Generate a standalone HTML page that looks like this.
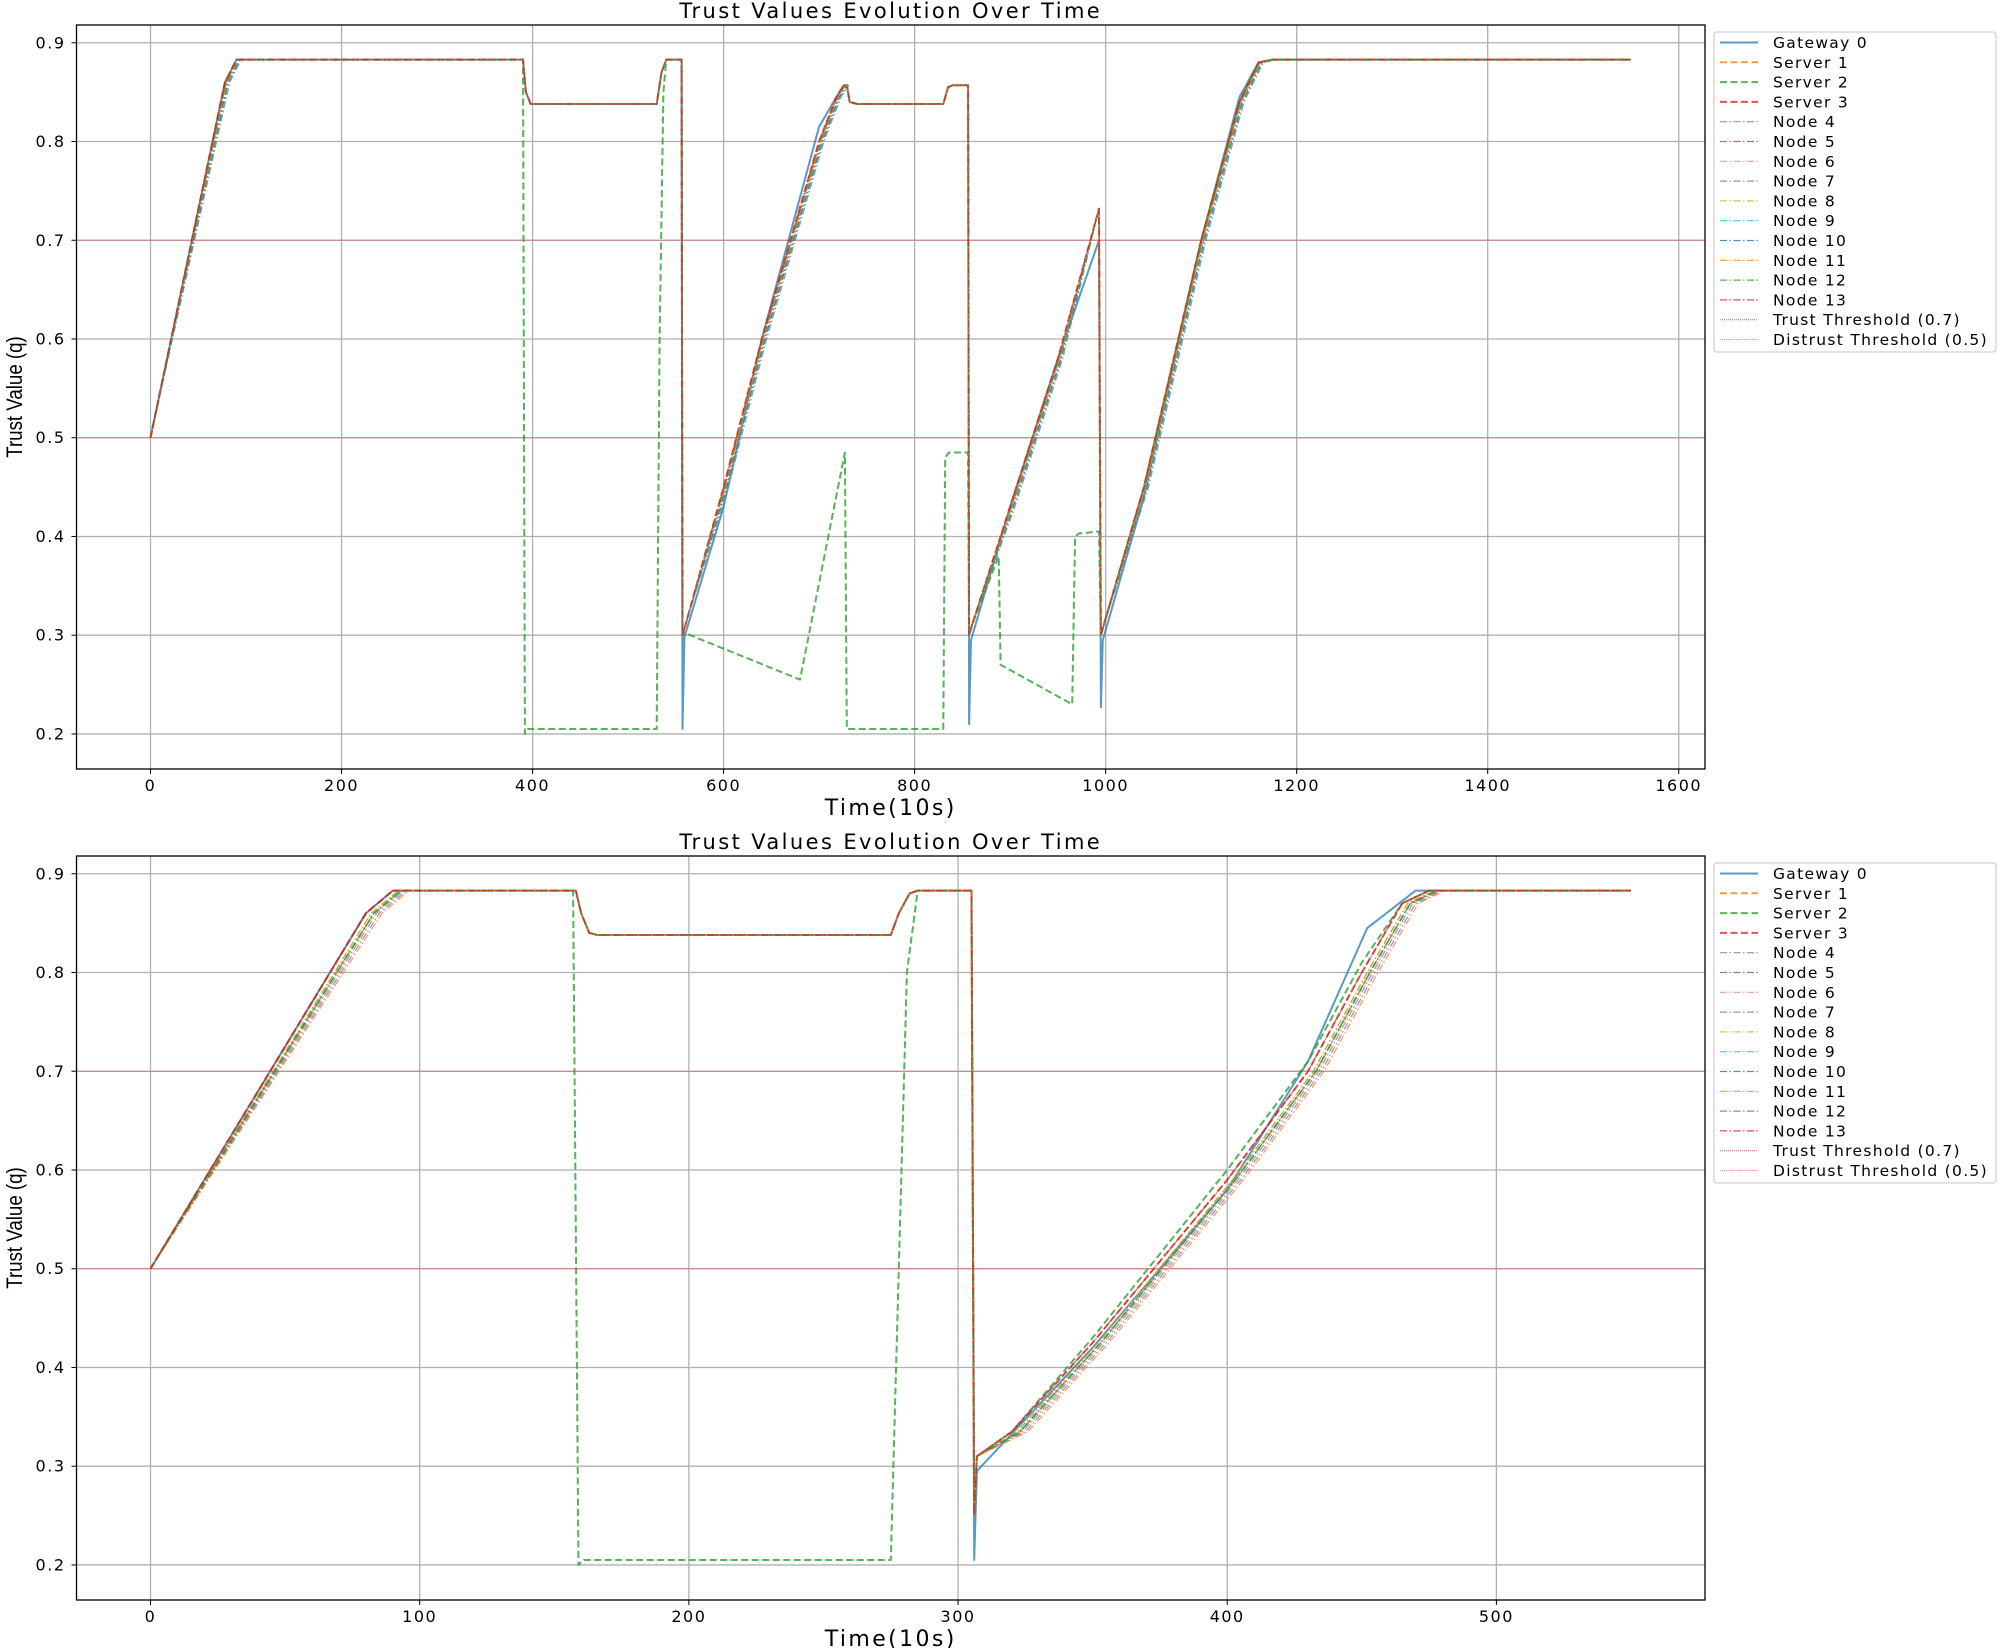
<!DOCTYPE html>
<html><head><meta charset="utf-8"><style>
html,body{margin:0;padding:0;background:#fff;}
svg{display:block;font-family:"DejaVu Sans","Liberation Sans",sans-serif;}
</style></head><body>
<svg id="fig" width="2000" height="1648" viewBox="0 0 2000 1648" xmlns="http://www.w3.org/2000/svg"></svg>
<script>
// ---------- data ----------
const seriesNames = ["Gateway 0","Server 1","Server 2","Server 3","Node 4","Node 5","Node 6","Node 7","Node 8","Node 9","Node 10","Node 11","Node 12","Node 13"];
const yTicks = [0.2,0.3,0.4,0.5,0.6,0.7,0.8,0.9];
const xTicksTop = [0,200,400,600,800,1000,1200,1400,1600];
const xTicksBottom = [0,100,200,300,400,500];
const thresholds = [0.7,0.5];
// [time, value, onRamp]
const topBase = [[0,.5,0],[78,.86,1],[90,.883,1],[390,.883,0],[393,.85,0],[398,.838,0],[530,.838,0],[535,.87,0],[540,.883,0],[556,.883,0],[557,.30,0],[560,.31,0],[600,.45,1],[640,.60,1],[700,.80,1],[718,.845,1],[726,.857,1],[729,.857,0],[732,.84,0],[740,.838,0],[830,.838,0],[835,.855,0],[840,.857,0],[856,.857,0],[857,.30,0],[860,.31,0],[900,.43,1],[950,.58,1],[993,.732,0],[995,.30,0],[998,.31,0],[1040,.45,1],[1100,.70,1],[1140,.84,1],[1160,.88,1],[1175,.883,1],[1550,.883,0]];
const topGateway = [[0,.5],[78,.86],[90,.883],[390,.883],[393,.85],[398,.838],[530,.838],[535,.87],[540,.883],[556,.883],[557,.205],[559,.298],[600,.43],[640,.60],[700,.815],[718,.845],[726,.857],[729,.857],[732,.84],[740,.838],[830,.838],[835,.855],[840,.857],[856,.857],[857,.21],[859,.295],[900,.43],[950,.58],[993,.70],[995,.227],[997,.295],[1040,.44],[1100,.70],[1140,.845],[1160,.88],[1175,.883],[1550,.883]];
const topServer2 = [[0,.5],[78,.86],[90,.883],[390,.883],[392,.2],[395,.205],[530,.205],[533,.6],[537,.85],[540,.883],[556,.883],[557,.30],[560,.302],[680,.255],[727,.485],[729,.205],[830,.205],[832,.48],[836,.485],[856,.485],[857,.30],[860,.31],[888,.38],[890,.27],[965,.23],[968,.40],[972,.403],[993,.405],[995,.30],[998,.31],[1040,.45],[1100,.70],[1140,.84],[1160,.88],[1175,.883],[1550,.883]];
const topLag = [0,1,0,0,3,1,2,5,1,4,3,2,1,0];
const botBase = [[0,.5,0],[80,.86,1],[90,.883,1],[158,.883,0],[160,.86,0],[163,.84,0],[166,.838,0],[275,.838,0],[278,.86,0],[282,.88,0],[285,.883,0],[305,.883,0],[306,.25,0],[307,.31,0],[320,.335,1],[350,.425,1],[400,.59,1],[430,.70,1],[450,.80,1],[465,.87,1],[475,.883,1],[550,.883,0]];
const botGateway = [[0,.5],[80,.86],[90,.883],[158,.883],[160,.86],[163,.84],[166,.838],[275,.838],[278,.86],[282,.88],[285,.883],[305,.883],[306,.205],[307,.295],[350,.42],[400,.58],[430,.71],[452,.845],[470,.883],[550,.883]];
const botServer2 = [[0,.5],[80,.86],[90,.883],[157,.883],[159,.2],[161,.205],[275,.205],[278,.5],[281,.8],[285,.883],[305,.883],[306,.25],[307,.31],[320,.335],[350,.43],[400,.60],[430,.71],[450,.81],[465,.87],[475,.883],[550,.883]];
const botLag = [0,3,0,0,5,2,3,4,2,3,3,6,3,0];

// ---------- rendering ----------
const NS="http://www.w3.org/2000/svg";
const svg=document.getElementById('fig');
const colors=["#1f77b4","#ff7f0e","#2ca02c","#d62728","#9467bd","#8c564b","#e377c2","#7f7f7f","#bcbd22","#17becf","#1f77b4","#ff7f0e","#2ca02c","#d62728"];
function mk(tag,attrs,parent){const e=document.createElementNS(NS,tag);for(const k in attrs)e.setAttribute(k,attrs[k]);(parent||svg).appendChild(e);return e;}
function styleOf(i){
  if(i===0) return {w:2,d:"",a:0.75};
  if(i<=3) return {w:2,d:"7,3.5",a:0.8};
  return {w:1.2,d:"7,2.5,1.5,2.5",a:0.8};
}
function drawPanel(p){
  const g=mk('g',{});
  
  
  const X=v=>p.L+(v-p.x0)/(p.x1-p.x0)*(p.R-p.L);
  const Y=v=>p.B-(v-0.1645)/(0.918-0.1645)*(p.B-p.T);
  const grid=mk('g',{},g);
  p.xt.forEach(t=>{const x=X(t);
    mk('line',{x1:x,x2:x,y1:p.T,y2:p.B,stroke:"#b0b0b0","stroke-width":1.3},grid);
    mk('line',{x1:x,x2:x,y1:p.B,y2:p.B+5,stroke:"#000","stroke-width":1},g);
    const tx=mk('text',{x:x,y:p.B+22,"text-anchor":"middle","font-size":16,"letter-spacing":1.5,fill:"#000"},g);tx.textContent=t;
    });
  yTicks.forEach(t=>{const y=Y(t);
    mk('line',{x1:p.L,x2:p.R,y1:y,y2:y,stroke:"#b0b0b0","stroke-width":1.3},grid);
    mk('line',{x1:p.L-5,x2:p.L,y1:y,y2:y,stroke:"#000","stroke-width":1},g);
    const tx=mk('text',{x:p.L-11,y:y+5.5,"text-anchor":"end","font-size":16,"letter-spacing":1.5,fill:"#000"},g);tx.textContent=t.toFixed(1);
    });
  const clip='clip'+p.id;
  const cp=mk('clipPath',{id:clip},g);mk('rect',{x:p.L,y:p.T,width:p.R-p.L,height:p.B-p.T},cp);
  const lines=mk('g',{"clip-path":`url(#${clip})`},g);
  seriesNames.forEach((n,i)=>{
    let pts;
    if(i===0) pts=p.gw.map(q=>[q[0],q[1]]);
    else if(i===2) pts=p.s2.map(q=>[q[0],q[1]]);
    else pts=p.base.map(q=>[q[0]+(q[2]?p.lag[i]:0),q[1]]);
    const s=styleOf(i);
    const pl=mk('polyline',{points:pts.map(q=>X(q[0]).toFixed(1)+","+Y(q[1]).toFixed(1)).join(" "),fill:"none",stroke:colors[i],"stroke-width":s.w,"stroke-dasharray":s.d,"stroke-opacity":s.a,"stroke-linejoin":"round"},lines);
    
    
  });
  thresholds.forEach((t,k)=>{const y=Y(t);
    const l=mk('line',{x1:p.L,x2:p.R,y1:y,y2:y,stroke:"#e03030","stroke-width":1,"stroke-dasharray":"1,1","stroke-opacity":0.8},g);
    });
  const fr=mk('rect',{x:p.L,y:p.T,width:p.R-p.L,height:p.B-p.T,fill:"none",stroke:"#000","stroke-width":1.3},g);
  
  const ti=mk('text',{x:(p.L+p.R)/2,y:p.T-7,"text-anchor":"middle","font-size":21,"letter-spacing":2.4,fill:"#000"},g);ti.textContent="Trust Values Evolution Over Time";
  
  const xl=mk('text',{x:(p.L+p.R)/2,y:p.B+46,"text-anchor":"middle","font-size":22,"letter-spacing":2.4,fill:"#000"},g);xl.textContent="Time(10s)";
  
  const cy=(p.T+p.B)/2;
  const yl=mk('text',{x:0,y:0,"text-anchor":"middle","font-size":22,fill:"#000","font-family":"Liberation Sans Narrow, Liberation Sans, sans-serif",transform:`translate(22,${cy}) rotate(-90) scale(0.85,1)`},g);yl.textContent="Trust Value (q)";
  
  // legend
  const lg=mk('g',{},g);
  const lt=p.T+7;
  mk('rect',{x:1714,y:lt,width:282,height:320,rx:3,fill:"#fff","fill-opacity":0.8,stroke:"#d0d0d0","stroke-width":1.3},lg);
  const labels=seriesNames.concat(["Trust Threshold (0.7)","Distrust Threshold (0.5)"]);
  labels.forEach((n,i)=>{const y=lt+10.5+i*19.8;
    let st;
    if(i<14){const s=styleOf(i);st={stroke:colors[i],"stroke-width":s.w,"stroke-dasharray":s.d,"stroke-opacity":s.a};}
    else st={stroke:i===14?"#e03030":"#ff6080","stroke-width":1,"stroke-dasharray":"1,1","stroke-opacity":0.8};
    mk('line',Object.assign({x1:1720,x2:1758,y1:y,y2:y},st),lg);
    const tx=mk('text',{x:1773,y:y+5.5,"font-size":15.5,"letter-spacing":1.3,fill:"#000"},lg);tx.textContent=n;
    });
}
drawPanel({id:1,name:'top-chart',L:76.5,R:1705,T:25,B:769,x0:-77.5,x1:1627.5,base:topBase,gw:topGateway,s2:topServer2,lag:topLag,xt:xTicksTop});
drawPanel({id:2,name:'bottom-chart',L:76.5,R:1705,T:856,B:1600,x0:-27.5,x1:577.5,base:botBase,gw:botGateway,s2:botServer2,lag:botLag,xt:xTicksBottom});
</script>
</body></html>
